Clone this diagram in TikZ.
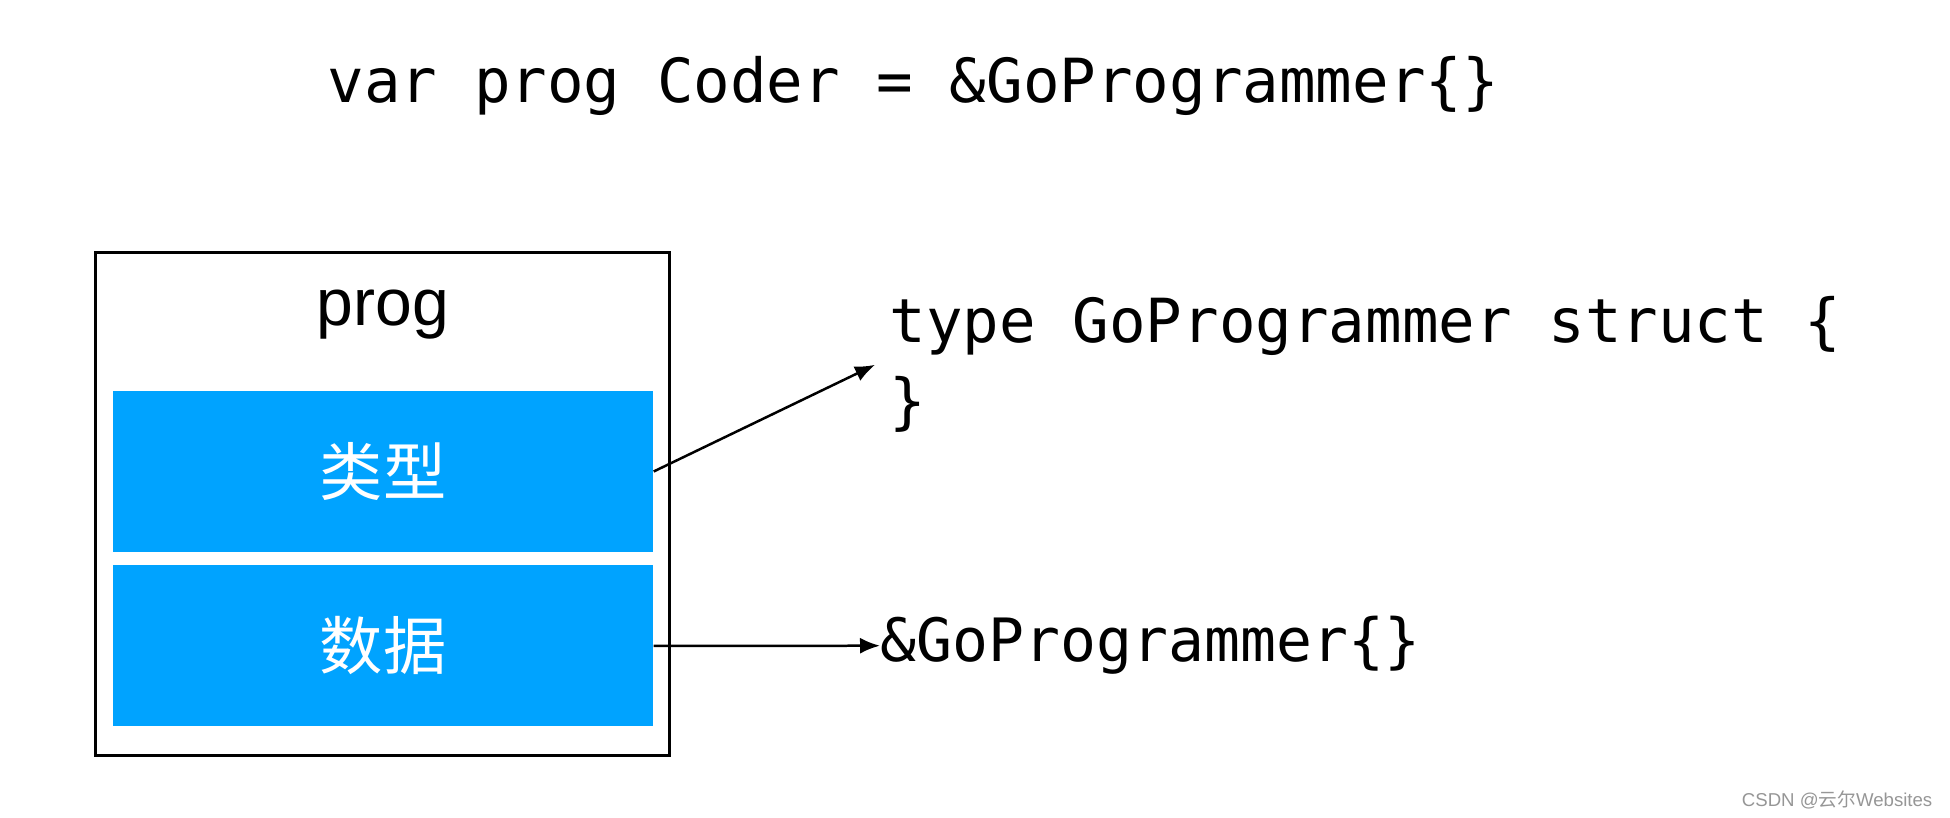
\documentclass[tikz,border=0pt]{standalone}
\usepackage{fontspec}
\setmainfont{Liberation Sans}
\newfontfamily\codefont{DejaVu Sans Mono}
\newfontfamily\cjk{Noto Sans CJK SC}
\definecolor{slotblue}{RGB}{0, 163, 255}
\definecolor{markgray}{RGB}{150, 150, 150}
\usetikzlibrary{arrows.meta, positioning}

\begin{document}
\begin{tikzpicture}[
  outerbox/.style={draw=black, line width=0.03cm, minimum width=5.74cm, minimum height=5.03cm, inner sep=0pt},
  slotbox/.style={fill=slotblue, text=white, minimum width=5.40cm, minimum height=1.61cm, inner sep=0pt, font=\cjk\fontsize{18}{20}\selectfont},
  code/.style={inner ysep=0pt, inner xsep=0pt, align=left, font=\codefont\fontsize{17.3}{22.76}\selectfont},
  link/.style={draw=black, line width=0.025cm, -{Latex[length=0.2cm,width=0.16cm]}}
]
  \useasboundingbox (0,0) rectangle (19.5,-8.18);

  % declaration
  \node[code, anchor=base west] (decl) at (3.27,-1.03) {var prog Coder = \&GoProgrammer\{\}};

  % interface value
  \node[outerbox] (prog) at (3.82,-5.045) {};
  \node[anchor=base, font=\fontsize{18.8}{20}\selectfont] (progname) at (3.83,-3.26) {prog};
  \node[slotbox] (typ) at (3.83,-4.715) {类型};
  \node[slotbox] (data) at (3.83,-6.46) {数据};

  % what the slots hold
  \node[code, anchor=base west, inner xsep=0.14cm] (typedef) at (8.75,-4.23) {type GoProgrammer struct \{\\\}};
  \node[code, anchor=base west, font=\codefont\fontsize{17}{20}\selectfont] (addr) at (8.80,-6.62) {\&GoProgrammer\{\}};

  \draw[link] (typ.east) -- (typedef.west);
  \draw[link] (data.east) -- (addr.west);

  \node[anchor=east, text=markgray, inner sep=0pt, font=\fontsize{5.3}{6}\selectfont] (mark) at (19.33,-8.0) {CSDN @{\cjk 云尔}Websites};
\end{tikzpicture}
\end{document}
